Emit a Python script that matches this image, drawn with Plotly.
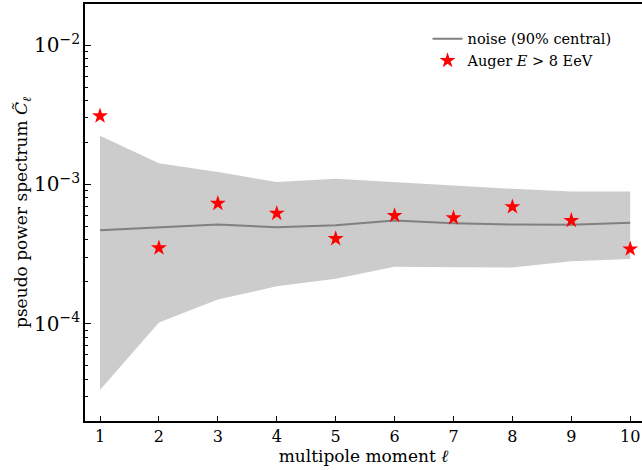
import plotly.graph_objects as go

# multipole moments
ell = [1, 2, 3, 4, 5, 6, 7, 8, 9, 10]

# noise realisations: median and 90% central band
noise_median = [4.69e-4, 4.93e-4, 5.15e-4, 4.93e-4, 5.09e-4, 5.51e-4, 5.27e-4, 5.15e-4, 5.13e-4, 5.30e-4]
noise_upper = [2.24e-3, 1.42e-3, 1.23e-3, 1.04e-3, 1.10e-3, 1.04e-3, 9.8e-4, 9.3e-4, 8.9e-4, 8.9e-4]
noise_lower = [3.35e-5, 1.02e-4, 1.49e-4, 1.86e-4, 2.10e-4, 2.56e-4, 2.54e-4, 2.53e-4, 2.81e-4, 2.92e-4]

# measured pseudo power spectrum
auger_cl = [3.1e-3, 3.5e-4, 7.3e-4, 6.2e-4, 4.08e-4, 5.98e-4, 5.75e-4, 6.91e-4, 5.51e-4, 3.44e-4]

FONT = "DejaVu Serif"

fig = go.Figure()

fig.add_trace(go.Scatter(
    x=ell, y=noise_lower, mode="lines", line=dict(width=0, color="#cccccc"),
    showlegend=False, hoverinfo="skip",
))
fig.add_trace(go.Scatter(
    x=ell, y=noise_upper, mode="lines", line=dict(width=0, color="#cccccc"),
    fill="tonexty", fillcolor="#cccccc", showlegend=False, hoverinfo="skip",
))
fig.add_trace(go.Scatter(
    x=ell, y=noise_median, mode="lines", line=dict(color="#808080", width=2),
    name="noise (90% central)",
))
fig.add_trace(go.Scatter(
    x=ell, y=auger_cl, mode="markers",
    marker=dict(symbol="star", size=12, color="#ff0000", line=dict(width=0)),
    name="Auger <i>E</i> > 8 EeV",
))

fig.update_layout(
    width=642, height=470,
    margin=dict(l=85, r=0, t=4, b=49),
    paper_bgcolor="white", plot_bgcolor="white",
    font=dict(family=FONT, size=16, color="black"),
    showlegend=True,
    legend=dict(
        x=0.615, y=0.955, xanchor="left", yanchor="top",
        traceorder="normal",
        bgcolor="rgba(0,0,0,0)", borderwidth=0,
        font=dict(family=FONT, size=14.5), itemwidth=30, tracegroupgap=0,
    ),
)

fig.update_xaxes(
    range=[0.745, 10.2], tickmode="array", tickvals=ell,
    ticktext=[str(v) for v in ell],
    ticks="inside", ticklen=5, tickwidth=1, tickcolor="black",
    showline=True, linecolor="black", linewidth=1.5, mirror=True,
    showgrid=False, zeroline=False,
    title=dict(text="multipole moment <i>ℓ</i>", standoff=4, font=dict(size=17)),
    tickfont=dict(size=16),
)

fig.update_yaxes(
    type="log", range=[-4.698, -1.705], dtick=1, exponentformat="power",
    ticks="inside", ticklen=6, tickwidth=1, tickcolor="black",
    minor=dict(ticks="inside", ticklen=3, tickwidth=1, tickcolor="black",
               dtick="D1", showgrid=False),
    showline=True, linecolor="black", linewidth=1.5, mirror=False,
    showgrid=False, zeroline=False,
    title=dict(text="pseudo power spectrum <i>C̃</i><sub><i>ℓ</i></sub>", standoff=1,
               font=dict(size=17)),
    tickfont=dict(size=16),
)

fig.write_html("out.html")
